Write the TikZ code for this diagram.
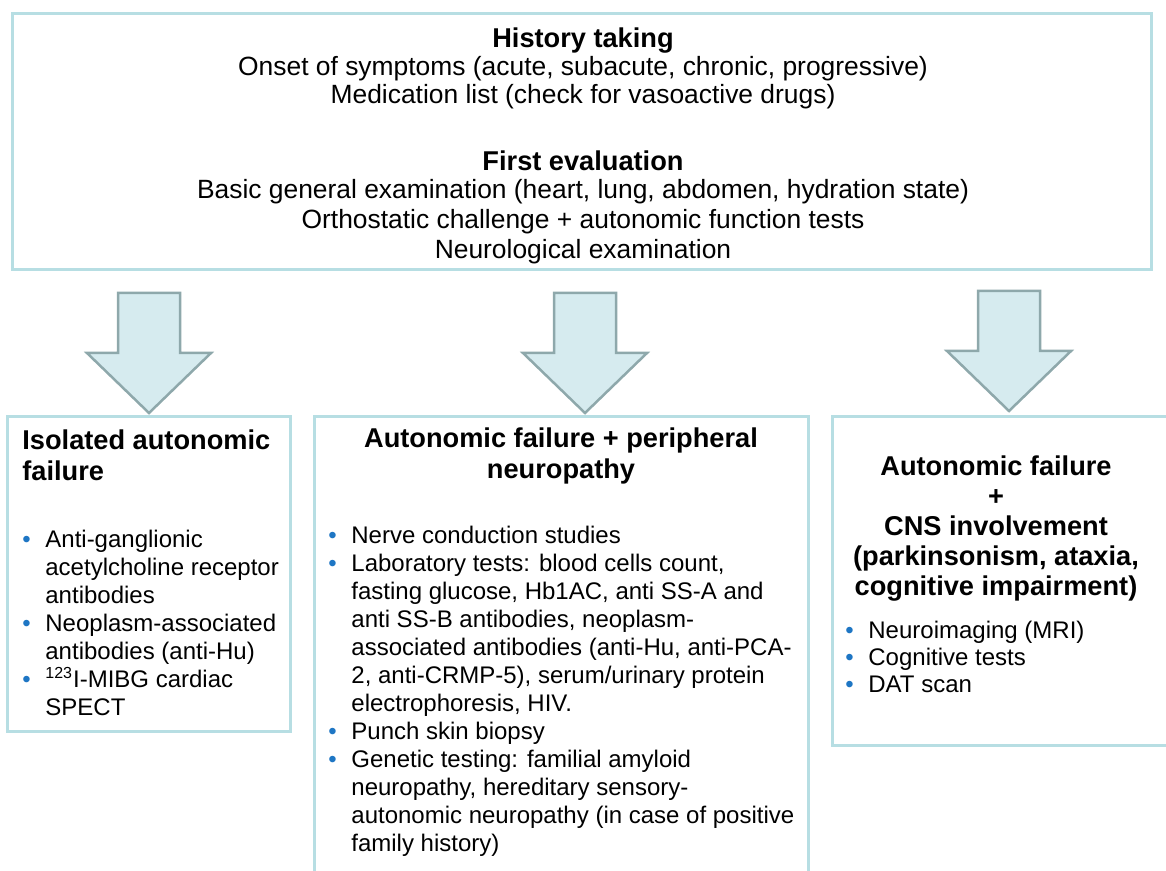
\documentclass[tikz,border=0pt]{standalone}
\usepackage{fontspec}
\setmainfont{Liberation Sans}

\definecolor{boxline}{RGB}{183,222,227}
\definecolor{arrowfill}{RGB}{214,235,239}
\definecolor{arrowline}{RGB}{142,168,171}
\definecolor{bulletblue}{RGB}{30,118,196}

\tikzset{
  frame/.style={draw=boxline, line width=1.5pt, fill=white, inner sep=0pt, outer sep=0pt},
  title/.style={font=\bfseries\fontsize{13.6}{15.5}\selectfont, inner sep=0pt, align=center},
  body/.style={font=\fontsize{13.2}{14}\selectfont, inner sep=0pt, align=center},
  list/.style={font=\fontsize{12}{14}\selectfont, inner sep=0pt, align=left, anchor=west},
  blockarrow/.style={fill=arrowfill, draw=arrowline, line width=1.25pt, line join=miter}
}
\newcommand{\bul}{\makebox[11.5pt][l]{\textcolor{bulletblue}{\textbullet}}}
\newcommand{\cont}{\hspace*{11.5pt}}

\begin{document}
\begin{tikzpicture}[x=0.5pt, y=-0.5pt]
  \useasboundingbox (0,0) rectangle (1166,871);

  % boxes
  \node[frame, minimum width=569.5pt, minimum height=128pt] (top) at (581.5,142) {};
  \node[frame, minimum width=141.5pt, minimum height=157.5pt] (isolated) at (148.5,573.5) {};
  \node[frame, minimum width=247pt, minimum height=260pt] (periph) at (561,676) {};
  \node[frame, minimum width=184pt, minimum height=164.5pt] (cns) at (1016,580.5) {};

  % arrows
  \foreach \cx/\ty in {149/293, 585/293, 1009/291}
    \draw[blockarrow] (\cx-31,\ty) -- (\cx+31,\ty) -- (\cx+31,\ty+60) -- (\cx+62,\ty+60)
      -- (\cx,\ty+120) -- (\cx-62,\ty+60) -- (\cx-31,\ty+60) -- cycle;

  % top box text
  \node[title] (histT) at (583,41) {History taking};
  \node[body] (histB) at (583,83) {Onset of symptoms (acute, subacute, chronic, progressive)\\
    Medication list (check for vasoactive drugs)};
  \node[title] (evalT) at (583,161) {First evaluation};
  \node[body, font=\fontsize{13.2}{15}\selectfont] (evalB) at (583,222)
    {Basic general examination (heart, lung, abdomen, hydration state)\\
    Orthostatic challenge + autonomic function tests\\
    Neurological examination};

  % isolated autonomic failure
  \node[title, align=left, anchor=west] (isoT) at (22,455.5) {Isolated autonomic\\failure};
  \node[list] (isoL) at (22,622.5) {\bul Anti-ganglionic\\
    \cont acetylcholine receptor\\
    \cont antibodies\\
    \bul Neoplasm-associated\\
    \cont antibodies (anti-Hu)\\
    \bul \textsuperscript{123}I-MIBG cardiac\\
    \cont SPECT};

  % autonomic failure + peripheral neuropathy
  \node[title] (perT) at (561,455.5) {Autonomic failure + peripheral\\neuropathy};
  \node[list] (perL) at (328,691) {\bul Nerve conduction studies\\
    \bul Laboratory tests: blood cells count,\\
    \cont fasting glucose, Hb1AC, anti SS-A and\\
    \cont anti SS-B antibodies, neoplasm-\\
    \cont associated antibodies (anti-Hu, anti-PCA-\\
    \cont 2, anti-CRMP-5), serum/urinary protein\\
    \cont electrophoresis, HIV.\\
    \bul Punch skin biopsy\\
    \bul Genetic testing: familial amyloid\\
    \cont neuropathy, hereditary sensory-\\
    \cont autonomic neuropathy (in case of positive\\
    \cont family history)};

  % autonomic failure + CNS involvement
  \node[title, font=\bfseries\fontsize{13.6}{15}\selectfont] (cnsT) at (996,529)
    {Autonomic failure\\+\\CNS involvement\\(parkinsonism, ataxia,\\cognitive impairment)};
  \node[list, font=\fontsize{12}{13.5}\selectfont] (cnsL) at (845,657) {\bul Neuroimaging (MRI)\\
    \bul Cognitive tests\\
    \bul DAT scan};
\end{tikzpicture}
\end{document}
